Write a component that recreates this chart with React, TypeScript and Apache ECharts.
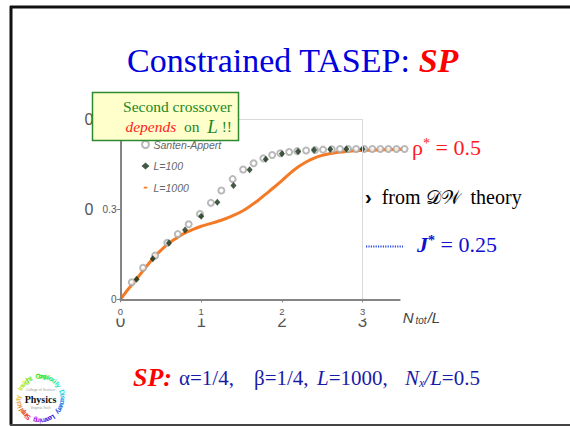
import React, { useEffect, useRef } from 'react';
import * as echarts from 'echarts';

// ---- data ----
const X_TICKS = [0, 1, 2, 3];
const SANTEN_X = [0.14, 0.28, 0.43, 0.58, 0.71, 0.845, 0.985, 1.12, 1.25, 1.39, 1.52, 1.65, 1.77, 1.88, 1.98, 2.09, 2.19, 2.3, 2.41, 2.51, 2.62, 2.72, 2.82, 2.92, 3.02, 3.12, 3.22, 3.32, 3.42, 3.52];
const SANTEN_Y = [0.057, 0.105, 0.146, 0.188, 0.217, 0.25, 0.284, 0.321, 0.362, 0.4, 0.432, 0.453, 0.469, 0.48, 0.486, 0.49, 0.493, 0.495, 0.497, 0.498, 0.499, 0.5, 0.5, 0.5, 0.5, 0.5, 0.5, 0.5, 0.5, 0.5];
const L100_X = [0.2, 0.4, 0.6, 0.8, 1.0, 1.2, 1.4, 1.6, 1.8, 2.0, 2.2, 2.4, 2.6, 2.8, 3.0];
const L100_Y = [0.067, 0.135, 0.187, 0.231, 0.276, 0.323, 0.379, 0.431, 0.466, 0.484, 0.492, 0.497, 0.499, 0.5, 0.5];
const L1000_X = [0, 0.1, 0.2, 0.3, 0.4, 0.5, 0.6, 0.7, 0.8, 0.9, 1.0, 1.1, 1.2, 1.3, 1.4, 1.5, 1.6, 1.7, 1.8, 1.9, 2.0, 2.1, 2.2, 2.3, 2.4, 2.5, 2.6, 2.7, 2.8, 2.9, 3.0, 3.25, 3.5];
const L1000_Y = [0, 0.035, 0.068, 0.102, 0.135, 0.163, 0.187, 0.205, 0.221, 0.233, 0.243, 0.251, 0.259, 0.268, 0.279, 0.292, 0.309, 0.328, 0.35, 0.372, 0.395, 0.419, 0.44, 0.457, 0.47, 0.479, 0.485, 0.489, 0.492, 0.494, 0.496, 0.498, 0.499];
const SERIES_NAMES = ['Santen-Appert', 'L=100', 'L=1000'];

const SERIF = '"Liberation Serif", "Times New Roman", serif';
const SANS = '"Liberation Sans", Arial, sans-serif';

function logoElements() {
  const els: any[] = [];
  const txt = 'Simplicity  Insight  Complexity  Discovery  Learning  ';
  const cx = 40.5, cy = 398.5, r = 22.5;
  const n = txt.length;
  const start = -2.55;
  for (let i = 0; i < n; i++) {
    const ch = txt[i];
    if (ch === ' ') continue;
    const phi = start + (i / n) * Math.PI * 2;
    const hue = Math.round((i / n) * 300);
    els.push({
      type: 'text',
      x: cx + r * Math.sin(phi),
      y: cy - r * Math.cos(phi),
      rotation: -phi,
      z: 50,
      style: {
        text: ch,
        fill: `hsl(${hue}, 80%, 52%)`,
        font: `bold 7px ${SANS}`,
        align: 'center', verticalAlign: 'middle',
        textAlign: 'center', textVerticalAlign: 'middle',
      },
    });
  }
  els.push({
    type: 'text', x: cx, y: cy + 1, z: 50,
    style: { text: 'Physics', fill: '#111', font: `bold 10px ${SERIF}`, align: 'center', verticalAlign: 'middle', textAlign: 'center', textVerticalAlign: 'middle' },
  });
  els.push({
    type: 'text', x: cx, y: cy - 8.5, z: 50,
    style: { text: 'College of Science', fill: '#999', font: `3.5px ${SANS}`, align: 'center', verticalAlign: 'middle', textAlign: 'center', textVerticalAlign: 'middle' },
  });
  els.push({
    type: 'text', x: cx, y: cy + 9.5, z: 50,
    style: { text: 'Virginia Tech', fill: '#999', font: `3.5px ${SANS}`, align: 'center', verticalAlign: 'middle', textAlign: 'center', textVerticalAlign: 'middle' },
  });
  return els;
}

function txt(x: number, y: number, text: string, rich: any, align = 'left', z = 60) {
  return {
    type: 'text', x, y, z,
    style: { text, rich, align, verticalAlign: 'middle', textAlign: align, textVerticalAlign: 'middle' },
  };
}

export default function App() {
  const ref = useRef<HTMLDivElement>(null);
  useEffect(() => {
    const chart = echarts.init(ref.current!, null, { renderer: 'svg' });
    const blue = '#1a1aa8';
    const option: any = {
      animation: false,
      backgroundColor: '#ffffff',
      grid: { left: 120.5, top: 119, width: 279.2, height: 180.3, containLabel: false, outerBoundsMode: 'none' },
      legend: {
        orient: 'vertical', left: 136, top: 134, itemGap: 10.5, itemWidth: 8, itemHeight: 7,
        textStyle: { fontFamily: SANS, fontSize: 10.5, fontStyle: 'italic', color: '#666', padding: [0, 0, 0, -1] },
        data: [
          { name: SERIES_NAMES[0], icon: 'emptyCircle' },
          { name: SERIES_NAMES[1], icon: 'diamond' },
          { name: SERIES_NAMES[2], icon: 'path://M0 0h0.01v0.01h-0.01z M2 3h4v2h-4z M7.99 7.99h0.01v0.01h-0.01z' },
        ],
        z: 4,
      },
      xAxis: [
        {
          type: 'value', min: 0, max: 3.46, z: 10,
          axisLine: { show: true, lineStyle: { color: '#858585', width: 2 } },
          axisTick: { show: true, customValues: X_TICKS, length: 3, lineStyle: { color: '#858585' } },
          axisLabel: { customValues: X_TICKS, fontSize: 9.5, color: '#555', margin: 7, fontFamily: SANS },
          splitLine: { show: false },
          name: '{n|N}{s|tot}{n|/L}', nameLocation: 'end', nameGap: 3,
          nameTextStyle: {
            verticalAlign: 'top', padding: [11, 0, 0, 0],
            rich: {
              n: { fontFamily: SANS, fontStyle: 'italic', fontSize: 15, color: '#444' },
              s: { fontFamily: SANS, fontStyle: 'italic', fontSize: 10, color: '#444', verticalAlign: 'bottom', padding: [5, 1, 0, 2] },
            },
          },
        },
        {
          type: 'value', min: 0, max: 3.46, z: 1, offset: 14, position: 'bottom',
          axisLine: { show: false }, axisTick: { show: false }, splitLine: { show: false },
          axisLabel: { customValues: X_TICKS, fontSize: 17, color: '#555', margin: 0, fontFamily: SANS },
        },
      ],
      yAxis: [
        {
          type: 'value', min: 0, max: 0.6, interval: 0.3, z: 10,
          axisLine: { show: true, lineStyle: { color: '#858585', width: 2 } },
          axisTick: { show: true, length: 4, lineStyle: { color: '#858585' } },
          axisLabel: { fontSize: 10, color: '#555', margin: 4, fontFamily: SANS },
          splitLine: { show: false },
        },
        {
          type: 'value', min: 0, max: 0.6, interval: 0.3, z: 1, offset: 27, position: 'left',
          axisLine: { show: false }, axisTick: { show: false }, splitLine: { show: false },
          axisLabel: { fontSize: 16, color: '#555', margin: 0, fontFamily: SANS, formatter: (v: number) => (v === 0 ? '' : '0') },
        },
      ],
      series: [
        {
          name: SERIES_NAMES[2], type: 'line', xAxisIndex: 0, yAxisIndex: 0, clip: false,
          data: L1000_X.map((x, i) => [x, L1000_Y[i]]),
          showSymbol: false, smooth: 0.3,
          lineStyle: { color: '#f47a26', width: 3 }, itemStyle: { color: '#f47a26' },
          z: 2,
        },
        {
          name: SERIES_NAMES[0], type: 'scatter', xAxisIndex: 0, yAxisIndex: 0, clip: false,
          data: SANTEN_X.map((x, i) => [x, SANTEN_Y[i]]),
          symbol: 'emptyCircle', symbolSize: 6,
          itemStyle: { color: '#a8a8a8', borderColor: '#a8a8a8', borderWidth: 1.2 },
          z: 3,
          markLine: {
            silent: true, symbol: ['none', 'none'], label: { show: false },
            lineStyle: { color: '#d9d9d9', width: 1, type: 'solid' },
            data: [
              [{ coord: [0, 0.6] }, { coord: [3, 0.6] }],
              [{ coord: [3, 0] }, { coord: [3, 0.6] }],
            ],
          },
        },
        {
          name: SERIES_NAMES[1], type: 'scatter', xAxisIndex: 0, yAxisIndex: 0, clip: false,
          data: L100_X.map((x, i) => [x, L100_Y[i]]),
          symbol: 'diamond', symbolSize: [6, 7],
          itemStyle: { color: '#143014' },
          z: 4,
        },
      ],
      graphic: {
        elements: [
          // slide border
          { type: 'line', z: 60, shape: { x1: 11, y1: 6, x2: 11, y2: 425 }, style: { stroke: '#111', lineWidth: 3 } },
          { type: 'line', z: 60, shape: { x1: 10, y1: 7, x2: 570, y2: 7 }, style: { stroke: '#111', lineWidth: 3 } },
          { type: 'line', z: 60, shape: { x1: 10, y1: 425, x2: 570, y2: 425 }, style: { stroke: '#444', lineWidth: 2 } },
          // partial cover of the large tick labels
          { type: 'rect', z: 5, shape: { x: 105, y: 303, width: 280, height: 15.5 }, style: { fill: '#ffffff' } },
          // title
          txt(292.5, 60, '{a|Constrained TASEP: }{b|SP}', {
            a: { fill: '#0000dd', font: `34px ${SERIF}` },
            b: { fill: '#ff0000', font: `italic bold 34px ${SERIF}` },
          }, 'center'),
          // annotation box
          { type: 'rect', z: 100, shape: { x: 92.5, y: 92.5, width: 146, height: 48 }, style: { fill: '#ffffcc', stroke: '#2f8a2f', lineWidth: 1.5 } },
          txt(232, 106, '{g|Second crossover}', { g: { fill: '#228822', font: `15.5px ${SERIF}` } }, 'right', 101),
          txt(232, 126.5, '{r|depends}{g|  on  }{l|L}{g| !!}', {
            r: { fill: '#ff1a1a', font: `italic 15.5px ${SERIF}` },
            g: { fill: '#228822', font: `15.5px ${SERIF}` },
            l: { fill: '#228822', font: `italic 19px ${SERIF}` },
          }, 'right', 101),
          // right side labels
          txt(412, 147, '{r|ρ}{s|*}{r| = 0.5}', {
            r: { fill: '#ff1a1a', font: `22px ${SERIF}` },
            s: { fill: '#ff1a1a', font: `14px ${SERIF}`, verticalAlign: 'top' },
          }),
          txt(365, 197, '{c|›}{t|  from }{d|𝒟𝒲}{t|  theory}', {
            c: { fill: '#000', font: `bold 20px ${SANS}` },
            t: { fill: '#000', font: `20px ${SERIF}` },
            d: { fill: '#000', font: `19px ${SERIF}` },
          }),
          { type: 'line', z: 60, shape: { x1: 366, y1: 246.5, x2: 403, y2: 246.5 }, style: { stroke: '#2a4de0', lineWidth: 2, lineDash: [1.2, 1.2] } },
          txt(417, 244, '{j|J}{s|*}{r| = 0.25}', {
            j: { fill: '#1010d0', font: `italic bold 22px ${SERIF}` },
            s: { fill: '#1010d0', font: `bold 14px ${SERIF}`, verticalAlign: 'top' },
            r: { fill: '#1010d0', font: `22px ${SERIF}` },
          }),
          // bottom parameter line
          txt(133, 377, '{b|SP:}', { b: { fill: '#ff0000', font: `italic bold 26px ${SERIF}` } }),
          txt(179, 378, '{r|α=1/4,}', { r: { fill: blue, font: `21px ${SERIF}` } }),
          txt(254, 378, '{r|β=1/4,}', { r: { fill: blue, font: `21px ${SERIF}` } }),
          txt(317, 378, '{i|L}{r|=1000,}', { i: { fill: blue, font: `italic 21px ${SERIF}` }, r: { fill: blue, font: `21px ${SERIF}` } }),
          txt(405, 378, '{i|N}{s|x}{i|/L}{r|=0.5}', {
            i: { fill: blue, font: `italic 21px ${SERIF}` },
            s: { fill: blue, font: `italic 12px ${SERIF}`, verticalAlign: 'bottom' },
            r: { fill: blue, font: `21px ${SERIF}` },
          }),
          ...logoElements(),
        ],
      },
    };
    chart.setOption(option);
    return () => chart.dispose();
  }, []);
  return <div ref={ref} style={{ position: 'absolute', left: 0, top: 0, width: 570, height: 426, background: '#fff' }} />;
}
